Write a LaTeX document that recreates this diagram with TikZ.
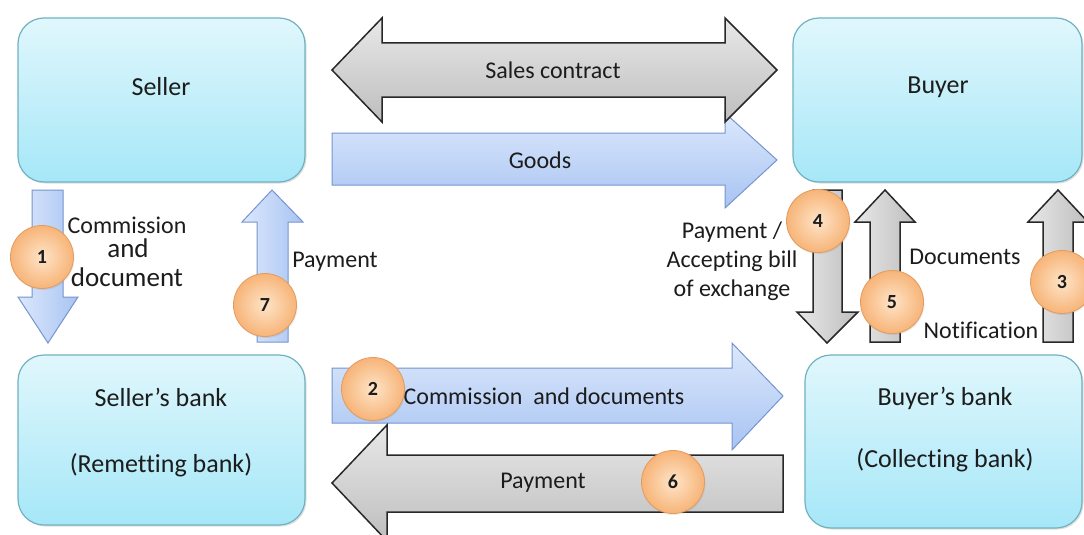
\documentclass[tikz,border=0pt]{standalone}
\usepackage{fontspec}
\setmainfont{Carlito}[Ligatures=NoCommon]
\usetikzlibrary{shadows}
\definecolor{boxtop}{RGB}{224,247,252}
\definecolor{boxbot}{RGB}{166,231,248}
\definecolor{boxline}{RGB}{112,178,192}
\definecolor{bluetop}{RGB}{220,232,252}
\definecolor{bluebot}{RGB}{168,196,242}
\definecolor{blueline}{RGB}{118,148,208}
\definecolor{graytop}{RGB}{232,232,232}
\definecolor{graybot}{RGB}{190,190,190}
\definecolor{grayline}{RGB}{40,40,40}
\definecolor{orin}{RGB}{254,228,200}
\definecolor{orout}{RGB}{247,180,120}
\definecolor{orline}{RGB}{226,156,96}
\definecolor{txt}{RGB}{28,28,28}
\begin{document}
\begin{tikzpicture}[x=1pt,y=-1pt,
  party/.style={draw=boxline, line width=1.2pt, rounded corners=26pt, rectangle,
    top color=boxtop, bottom color=boxbot, inner sep=0pt,
    drop shadow={shadow xshift=1.5pt,shadow yshift=-1.5pt,opacity=0.25}},
  bluearrow/.style={draw=blueline, line width=1pt, top color=bluetop, bottom color=bluebot},
  bluevarrow/.style={draw=blueline, line width=1pt, left color=bluetop, right color=bluebot},
  grayarrow/.style={draw=grayline, line width=1.5pt, top color=graytop, bottom color=graybot},
  grayvarrow/.style={draw=grayline, line width=1.5pt, left color=graytop, right color=graybot},
  partytext/.style={text=txt, font=\fontsize{26}{30}\selectfont, inner sep=0pt},
  flowtext/.style={text=txt, font=\fontsize{24}{29}\selectfont, inner sep=0pt, align=center},
  bigflowtext/.style={text=txt, font=\fontsize{27}{30}\selectfont, inner sep=0pt},
  badge/.style={circle, minimum size=63pt, inner sep=0pt, draw=orline, line width=0.8pt,
    inner color=orin, outer color=orout, text=txt, font=\bfseries\fontsize{20}{22}\selectfont,
    drop shadow={shadow xshift=1pt,shadow yshift=-1.5pt,opacity=0.15}}
]
\clip (0,0) rectangle (1084,535);
\fill[white] (0,0) rectangle (1084,535);

% parties
\node[party, minimum width=287pt, minimum height=164pt] (seller) at (161.5,100) {};
\node[party, minimum width=289pt, minimum height=164pt] (buyer) at (937.5,100) {};
\node[party, minimum width=287pt, minimum height=170pt] (sbank) at (161.5,440) {};
\node[party, minimum width=277pt, minimum height=173pt] (bbank) at (943.5,441.5) {};

% horizontal block arrows
\path[bluearrow] (332,133) -- (725,133) -- (725,113) -- (777,160) -- (725,208) -- (725,185) -- (332,185) -- cycle;
\path[grayarrow] (332,70) -- (382,18) -- (382,43) -- (725,43) -- (725,18) -- (777,70) -- (725,122) -- (725,97) -- (382,97) -- (382,122) -- cycle;
\path[bluearrow] (332,368) -- (732,368) -- (732,343) -- (783,396) -- (732,450) -- (732,423) -- (332,423) -- cycle;
\path[grayarrow] (783,455) -- (783,512) -- (387,512) -- (387,541) -- (332,483) -- (387,425) -- (387,455) -- cycle;

% vertical block arrows
\path[bluevarrow] (32,190) -- (63,190) -- (63,297) -- (78,297) -- (48,343) -- (18,297) -- (32,297) -- cycle;
\path[bluevarrow] (257,342) -- (288,342) -- (288,222) -- (303,222) -- (272,190) -- (242,222) -- (257,222) -- cycle;
\path[grayvarrow] (813,190) -- (842,190) -- (842,312) -- (858,312) -- (827,343) -- (797,312) -- (813,312) -- cycle;
\path[grayvarrow] (870,342) -- (900,342) -- (900,222) -- (915,222) -- (885,190) -- (855,222) -- (870,222) -- cycle;
\path[grayvarrow] (1043,342) -- (1073,342) -- (1073,222) -- (1088,222) -- (1058,190) -- (1028,222) -- (1043,222) -- cycle;

% party texts
\node[partytext] (tseller) at (161,87) {Seller};
\node[partytext] (tbuyer) at (938,87) {Buyer};
\node[partytext] (tsbank) at (161,397) {Seller’s bank};
\node[partytext] (tsbank2) at (161,465) {(Remetting bank)};
\node[partytext] (tbbank) at (945,398) {Buyer’s bank};
\node[partytext] (tbbank2) at (945,460) {(Collecting bank)};

% flow labels
\node[flowtext] (lsales) at (553,70) {Sales contract};
\node[flowtext] (lgoods) at (540,160) {Goods};
\node[flowtext] (lcomm) at (544,396) {Commission\ \ and documents};
\node[flowtext] (lpay) at (543,483) {Payment};
\node[flowtext] (lcomm1) at (127,225) {Commission};
\node[bigflowtext] (land) at (128,248) {and};
\node[bigflowtext] (ldoc) at (127,277) {document};
\node[flowtext] (lpay7) at (335,262) {Payment};
\node[flowtext] (lpay4) at (732,261) {Payment /\\Accepting bill\\of exchange};
\node[flowtext] (ldocs) at (965,257) {Documents};
\node[flowtext] (lnotif) at (981,330) {Notification};

% step badges
\node[badge] (c1) at (42,257) {1};
\node[badge] (c2) at (373,389) {2};
\node[badge] (c3) at (1062,282) {3};
\node[badge] (c4) at (818,221) {4};
\node[badge] (c5) at (892,302) {5};
\node[badge] (c6) at (673,482) {6};
\node[badge] (c7) at (265,305) {7};
\end{tikzpicture}
\end{document}
